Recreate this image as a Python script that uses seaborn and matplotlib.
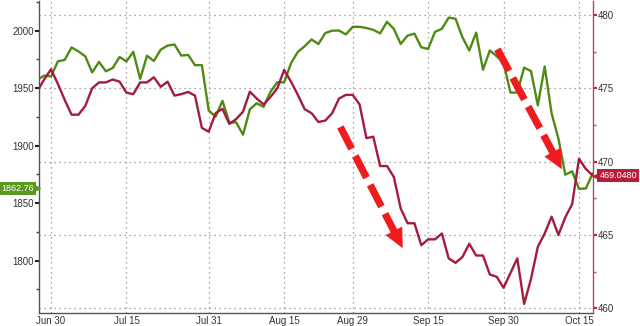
import numpy as np
import pandas as pd
import matplotlib
matplotlib.use("Agg")
import matplotlib.pyplot as plt
import matplotlib.transforms as mtransforms
from matplotlib.ticker import MultipleLocator, FixedLocator
import seaborn as sns

# ---------------- data ----------------
dates = pd.bdate_range("2014-06-26", "2014-10-17")

spx = [1957.22, 1960.96, 1960.23, 1973.32, 1974.62, 1985.44, 1982.0, 1977.65,
       1963.71, 1972.83, 1964.68, 1967.57, 1977.10, 1973.28, 1981.57, 1958.12,
       1978.22, 1973.63, 1983.53, 1987.01, 1987.98, 1978.34, 1978.91, 1969.95,
       1970.07, 1930.67, 1925.15, 1938.99, 1920.21, 1920.24, 1909.57, 1931.59,
       1936.92, 1933.75, 1946.72, 1955.18, 1955.06, 1971.74, 1981.60, 1986.51,
       1992.37, 1988.40, 1997.92, 2000.02, 2000.12, 1996.74, 2003.37, 2003.37,
       2002.28, 2000.72, 1997.65, 2007.71, 2001.54, 1988.44, 1995.69, 1997.45,
       1985.54, 1984.13, 1998.98, 2001.57, 2011.36, 2010.40, 1994.29, 1982.77,
       1998.30, 1965.99, 1982.85, 1977.80, 1972.29, 1946.16, 1946.17, 1967.90,
       1964.82, 1935.10, 1968.89, 1928.21, 1906.13, 1874.74, 1877.70, 1862.49,
       1862.76, 1876.0]

other = [474.8, 475.6, 476.3, 475.3, 474.2, 473.2, 473.2, 473.8,
         475.0, 475.4, 475.4, 475.6, 475.45, 474.7, 474.6, 475.4,
         475.4, 475.75, 475.1, 475.45, 474.5, 474.6, 474.75, 474.5,
         472.3, 472.04, 473.3, 473.6, 472.57, 472.9, 473.4, 474.77,
         474.3, 473.9, 474.4, 475.0, 476.25, 475.45, 474.55, 473.57,
         473.3, 472.7, 472.8, 473.3, 474.3, 474.55, 474.55, 473.9,
         471.6, 471.7, 469.7, 469.7, 468.95, 466.8, 465.8, 465.8,
         464.3, 464.7, 464.7, 465.1, 463.4, 463.1, 463.5, 464.4,
         463.6, 463.6, 462.3, 462.15, 461.4, 462.4, 463.4, 460.3,
         462.0, 464.2, 465.1, 466.25, 465.0, 466.2, 467.1, 470.2,
         469.5, 469.05]

tick_dates = ["2014-06-30", "2014-07-15", "2014-07-31", "2014-08-15",
              "2014-08-29", "2014-09-15", "2014-09-30", "2014-10-15"]
tick_labels = ["Jun 30", "Jul 15", "Jul 31", "Aug 15", "Aug 29", "Sep 15",
               "Sep 30", "Oct 15"]

left_label_value = 1862.76
right_label_value = 469.0480

# arrows (x as trading-day index, y on right axis)
arrow1 = ((44.2, 472.36), (53.3, 464.1))
arrow2 = ((67.1, 477.66), (76.5, 469.48))

# ---------------- style ----------------
sns.set_style("white")
plt.rcParams["font.family"] = ["Liberation Sans", "DejaVu Sans"]

GREEN = "#4f8a14"
RED = "#a31c3e"
ARROW = "#ee1b1f"
GRID = "#8a8a8a"
LABEL_SIZE = 6.5

df = pd.DataFrame({"idx": np.arange(len(dates)), "spx": spx, "other": other})

fig = plt.figure(figsize=(6.4, 3.26), dpi=100)
ax = fig.add_axes([0.0614, 0.0399, 0.8647, 0.957])
ax2 = ax.twinx()

sns.lineplot(data=df, x="idx", y="spx", ax=ax, color=GREEN, lw=1.7)
sns.lineplot(data=df, x="idx", y="other", ax=ax2, color=RED, lw=1.7)

ax.set_xlim(0.29, 81.0)
ax.set_ylim(1754.5, 2025.8)
ax2.set_ylim(459.68, 480.95)

pos = [int(np.where(dates == pd.Timestamp(d))[0][0]) for d in tick_dates]
ax.xaxis.set_major_locator(FixedLocator(pos))
ax.set_xticklabels(tick_labels)
mids = [(a + b) / 2 for a, b in zip(pos[:-1], pos[1:])]
ax.xaxis.set_minor_locator(FixedLocator(mids))

ax.yaxis.set_major_locator(MultipleLocator(50))
ax.yaxis.set_minor_locator(MultipleLocator(25))
ax2.yaxis.set_major_locator(MultipleLocator(5))
ax2.yaxis.set_minor_locator(MultipleLocator(2.5))

for a in (ax, ax2):
    a.set_xlabel("")
    a.set_ylabel("")

# grid: horizontal from right axis, vertical from x ticks
ax2.grid(False)
ax.grid(False)
for yv in np.arange(460, 481, 5):
    ax2.axhline(yv, color=GRID, lw=0.9, ls=(0, (1, 3)), zorder=0)
for xv in pos:
    ax.axvline(xv, color=GRID, lw=0.9, ls=(0, (1, 3)), zorder=0)

# spines
ax.spines["top"].set_visible(False)
ax2.spines["top"].set_visible(False)
ax.spines["left"].set_color("#555555")
ax.spines["bottom"].set_color("#555555")
ax2.spines["left"].set_visible(False)
ax2.spines["bottom"].set_visible(False)
ax2.spines["right"].set_color("#a0506a")
ax.spines["right"].set_visible(False)
for sp in ("left", "bottom"):
    ax.spines[sp].set_linewidth(1.0)
ax2.spines["right"].set_linewidth(1.0)

ax.tick_params(axis="y", which="major", direction="out", length=3, width=1.5,
               color="#222222", labelsize=7, labelcolor="#333333", pad=1)
ax.tick_params(axis="y", which="minor", direction="out", length=2, width=1.0,
               color="#444444")
ax2.tick_params(axis="y", which="major", direction="out", length=3, width=1.5,
                color="#c0203a", labelsize=7, labelcolor="#333333", pad=1)
ax2.tick_params(axis="y", which="minor", direction="out", length=2, width=1.0,
                color="#c0506a")
ax.tick_params(axis="x", which="major", direction="in", length=3, width=1.0,
               color="#555555", labelsize=7, labelcolor="#333333", pad=2)
ax.tick_params(axis="x", which="minor", direction="in", length=3, width=1.0,
               color="#555555")

# arrows
def dashed_arrow(a, tail, tip):
    (x0, y0), (x1, y1) = tail, tip
    f = 0.87
    xs = x0 + (x1 - x0) * f
    ys = y0 + (y1 - y0) * f
    a.plot([x0, xs], [y0, ys], color=ARROW, lw=5.2, dashes=(3.4, 1.1),
           solid_capstyle="butt", dash_capstyle="butt", zorder=6)
    fb = 0.84
    xb = x0 + (x1 - x0) * fb
    yb = y0 + (y1 - y0) * fb
    a.annotate("", xy=(x1, y1), xytext=(xb, yb),
               arrowprops=dict(arrowstyle="-|>,head_length=1.0,head_width=0.48",
                               mutation_scale=14, color=ARROW, lw=0,
                               shrinkA=0, shrinkB=0), zorder=7)

dashed_arrow(ax2, *arrow1)
dashed_arrow(ax2, *arrow2)

# last value labels
tl = mtransforms.blended_transform_factory(ax.transAxes, ax.transData)
ax.text(-0.010, left_label_value, f"{left_label_value:.2f}", transform=tl,
        ha="right", va="center", color="white", fontsize=LABEL_SIZE,
        clip_on=False,
        bbox=dict(boxstyle="square,pad=0.25", fc="#5a9a1c", ec="none"), zorder=10)
ax.plot([-0.005], [left_label_value], transform=tl, marker=">", ms=5,
        color="#5a9a1c", clip_on=False, zorder=10)

tr = mtransforms.blended_transform_factory(ax2.transAxes, ax2.transData)
ax2.text(1.012, right_label_value, f"{right_label_value:.4f}", transform=tr,
         ha="left", va="center", color="white", fontsize=LABEL_SIZE,
         clip_on=False,
         bbox=dict(boxstyle="square,pad=0.25", fc="#b81e3c", ec="none"), zorder=10)
ax2.plot([1.006], [right_label_value], transform=tr, marker="<", ms=5,
         color="#b81e3c", clip_on=False, zorder=10)

fig.savefig("out.png", dpi=100)
